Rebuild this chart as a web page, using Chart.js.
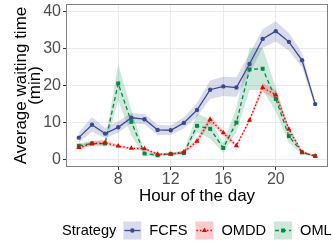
<!DOCTYPE html>
<html>
<head>
<meta charset="utf-8">
<script src="https://cdn.jsdelivr.net/npm/chart.js@4"></script>
<style>
  html, body { margin: 0; padding: 0; background: #fff; }
  #wrap { width: 332px; height: 249px; }
</style>
</head>
<body>
<div id="wrap"><canvas id="waitChart" width="332" height="249"></canvas></div>
<script>
const hours = [5, 6, 7, 8, 9, 10, 11, 12, 13, 14, 15, 16, 17, 18, 19, 20, 21, 22, 23];
const xTicks = [8, 12, 16, 20];
const yTicks = [0, 10, 20, 30, 40];

const fcfs     = [5.9, 9.4, 7.0, 8.7, 11.3, 10.9, 8.0, 7.9, 9.9, 13.4, 18.9, 19.8, 19.5, 25.9, 32.7, 34.8, 31.9, 26.9, 15.0];
const fcfsLow  = [4.5, 7.5, 5.8, 7.2, 9.8, 9.5, 6.6, 6.6, 8.4, 11.6, 16.4, 17.2, 17.0, 23.3, 30.3, 32.0, 29.5, 25.0, 14.2];
const fcfsHigh = [7.3, 11.5, 8.5, 10.3, 12.6, 12.3, 9.4, 9.2, 11.4, 15.3, 21.4, 22.4, 22.3, 28.7, 35.3, 37.5, 34.3, 29.0, 15.8];

const omdd     = [3.2, 4.3, 4.5, 3.6, 3.0, 2.9, 1.4, 1.4, 2.0, 4.9, 10.8, 7.2, 3.7, 10.6, 19.5, 17.5, 8.2, 1.9, 0.9];
const omddLow  = [2.6, 3.8, 4.0, 3.2, 2.7, 2.5, 1.1, 1.1, 1.6, 4.2, 9.8, 6.5, 3.2, 10.0, 18.3, 16.3, 7.4, 1.5, 0.7];
const omddHigh = [3.9, 4.9, 5.3, 4.0, 3.3, 3.3, 1.7, 1.7, 2.5, 5.7, 11.8, 8.0, 4.2, 11.2, 20.7, 18.8, 9.0, 2.3, 1.1];

const oml      = [3.7, 4.3, 4.3, 20.6, 10.2, 1.6, 1.1, 1.5, 1.7, 9.1, 8.3, 3.1, 10.0, 24.4, 24.6, 16.4, 6.3, 1.9, 0.9];
const omlLow   = [3.0, 3.6, 3.5, 16.0, 6.5, 1.0, 0.7, 1.1, 1.2, 7.4, 5.6, 1.8, 7.5, 18.8, 18.8, 13.0, 4.5, 1.4, 0.6];
const omlHigh  = [4.4, 5.0, 5.0, 25.8, 13.5, 2.2, 1.5, 1.9, 2.2, 12.5, 10.8, 4.4, 14.0, 30.3, 30.3, 19.5, 8.2, 2.4, 1.2];

const FONT = '"Liberation Sans", Arial, sans-serif';

const series = [
    { name: 'FCFS', mean: fcfs, low: fcfsLow, high: fcfsHigh, color: '#3B4992', band: 'rgba(59,73,146,0.2)', dash: [], point: 'circle', radius: 2.2 },
    { name: 'OMDD', mean: omdd, low: omddLow, high: omddHigh, color: '#EE0000', band: 'rgba(238,0,0,0.2)', dash: [1.5, 2], point: 'triangle', radius: 3 },
    { name: 'OML', mean: oml, low: omlLow, high: omlHigh, color: '#008B45', band: 'rgba(0,139,69,0.2)', dash: [4, 3], point: 'rect', radius: 2.8 }
];

function toPoints(values) {
    return hours.map((h, i) => ({ x: h, y: values[i] }));
}

const datasets = [];
series.forEach(s => {
    datasets.push({
        label: s.name + ' low',
        data: toPoints(s.low),
        borderWidth: 0,
        pointRadius: 0,
        fill: false,
        order: 2
    });
    datasets.push({
        label: s.name + ' band',
        data: toPoints(s.high),
        borderWidth: 0,
        pointRadius: 0,
        backgroundColor: s.band,
        fill: '-1',
        order: 2
    });
});
series.forEach(s => {
    datasets.push({
        label: s.name,
        data: toPoints(s.mean),
        borderColor: s.color,
        backgroundColor: s.color,
        borderWidth: 1.3,
        borderDash: s.dash,
        pointStyle: s.point,
        pointRadius: s.radius,
        pointBorderWidth: 0,
        fill: false,
        order: 1
    });
});

// panel border all round, like ggplot theme_bw
const panelBorder = {
    id: 'panelBorder',
    afterDraw(chart) {
        const { left, top, right, bottom } = chart.chartArea;
        const ctx = chart.ctx;
        ctx.save();
        ctx.strokeStyle = '#7f7f7f';
        ctx.lineWidth = 1;
        ctx.strokeRect(Math.round(left) - 0.5, Math.round(top) - 0.5, Math.round(right - left) + 1, Math.round(bottom - top) + 1);
        ctx.restore();
    }
};

// bottom legend: "Strategy" then key boxes with line + point
const strategyLegend = {
    id: 'strategyLegend',
    afterDraw(chart) {
        const ctx = chart.ctx;
        ctx.save();
        ctx.font = '14.6px ' + FONT;
        ctx.textBaseline = 'middle';
        ctx.textAlign = 'left';
        const y = 230.5;
        const keyW = 18, keyGap = 8, itemGap = 8, titleGap = 7;
        let x = 62;

        ctx.fillStyle = '#000';
        ctx.fillText('Strategy', x, y);
        x += ctx.measureText('Strategy').width + titleGap;

        series.forEach(s => {
            ctx.fillStyle = s.band;
            ctx.fillRect(x, y - keyW / 2, keyW, keyW);
            ctx.strokeStyle = s.color;
            ctx.lineWidth = 1.3;
            ctx.setLineDash(s.dash);
            ctx.beginPath();
            ctx.moveTo(x + 1, y);
            ctx.lineTo(x + keyW - 1, y);
            ctx.stroke();
            ctx.setLineDash([]);
            ctx.fillStyle = s.color;
            ctx.beginPath();
            Chart.helpers.drawPoint(ctx, { pointStyle: s.point, radius: s.radius, borderWidth: 0 }, x + keyW / 2, y);
            x += keyW + keyGap;
            ctx.fillStyle = '#000';
            ctx.fillText(s.name, x, y);
            x += ctx.measureText(s.name).width + itemGap;
        });
        ctx.restore();
    }
};

const chart = new Chart(document.getElementById('waitChart').getContext('2d'), {
    type: 'line',
    data: { datasets: datasets },
    plugins: [panelBorder, strategyLegend],
    options: {
        responsive: false,
        animation: false,
        devicePixelRatio: 1,
        layout: { padding: { left: 0, right: 5, top: 5, bottom: 42 } },
        plugins: {
            legend: { display: false },
            tooltip: { enabled: false }
        },
        scales: {
            x: {
                type: 'linear',
                min: 4.1,
                max: 23.9,
                afterFit: scale => { scale.height = 41; scale.paddingLeft = 0; scale.paddingRight = 0; },
                afterBuildTicks: scale => { scale.ticks = xTicks.map(v => ({ value: v })); },
                grid: { color: '#ebebeb', lineWidth: 1, tickLength: 4, tickColor: '#333' },
                border: { display: false },
                ticks: { color: '#4d4d4d', font: { family: FONT, size: 16 }, padding: 0, maxRotation: 0 },
                title: { display: true, text: 'Hour of the day', color: '#000', font: { family: FONT, size: 17 }, padding: { top: 0, bottom: 0 } }
            },
            y: {
                min: -1.8,
                max: 41.9,
                afterFit: scale => { scale.width = 67; scale.paddingTop = 0; scale.paddingBottom = 0; },
                afterBuildTicks: scale => { scale.ticks = yTicks.map(v => ({ value: v })); },
                grid: { color: '#ebebeb', lineWidth: 1, tickLength: 4, tickColor: '#333' },
                border: { display: false },
                ticks: { color: '#4d4d4d', font: { family: FONT, size: 16 }, padding: 2 },
                title: { display: true, text: ['Average waiting time', '(min)'], color: '#000', font: { family: FONT, size: 17, lineHeight: 0.78 }, padding: { top: 15, bottom: 0 } }
            }
        }
    }
});
</script>
</body>
</html>
